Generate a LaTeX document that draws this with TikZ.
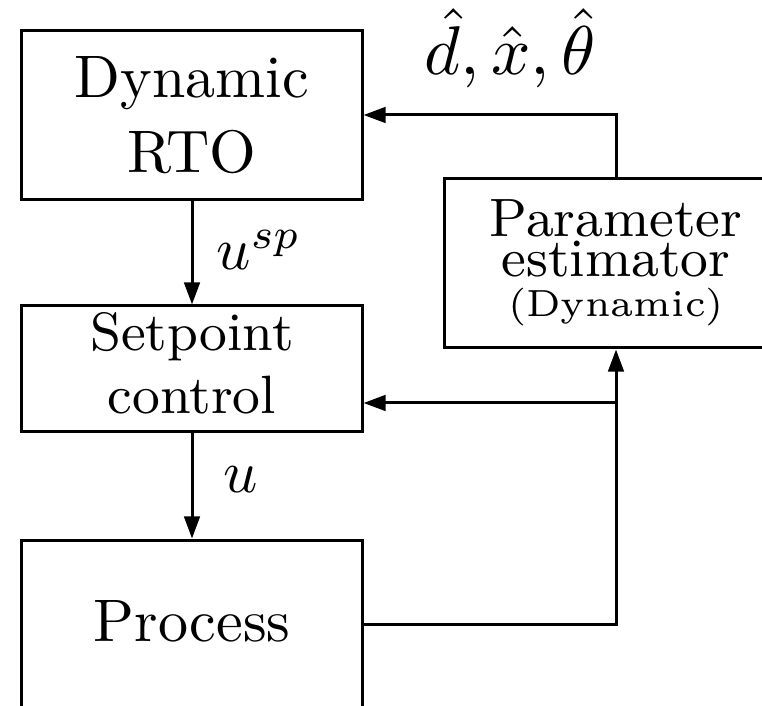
\documentclass[tikz,border=0pt]{standalone}
\usepackage{graphicx}
\usetikzlibrary{arrows.meta}
\begin{document}
\begin{tikzpicture}[x=0.16667pt,y=-0.16667pt,line width=0.5pt,
  box/.style={draw, line width=0.5pt, align=center, inner sep=0pt},
  arr/.style={-{Triangle[length=3.7pt,width=2.6pt]}},
  bigtext/.style={font=\fontsize{10}{12.5}\selectfont},
  midtext/.style={font=\fontsize{9}{10.5}\selectfont},
  lbl/.style={inner sep=0pt, anchor=base west, font=\fontsize{10}{12}\selectfont}]
\useasboundingbox (0,0) rectangle (762,706);
\clip (0,0) rectangle (762,706);
\node[box, bigtext, minimum width=56.67pt, minimum height=28.33pt] (rto) at (192,115) {Dynamic\\RTO};
\node[box, midtext, minimum width=56.67pt, minimum height=21pt] (sp) at (192,369) {Setpoint\\control\vphantom{g}};
\node[box, bigtext, minimum width=56.67pt, minimum height=28.33pt] (proc) at (192,625) {Process\rule[-1.3pt]{0pt}{0pt}};
\node[box, font=\fontsize{9}{6.67}\selectfont, minimum width=57.33pt, minimum height=28.33pt] (est) at (616,263)
  {Parameter\\estimator\\{\fontsize{6.3}{6.33}\selectfont (Dynamic)}};
\coordinate (j) at (616,403);
\draw[arr] (rto.south) -- (sp.north);
\draw[arr] (sp.south) -- (proc.north);
\draw[arr] (proc.east) -| (est.south);
\draw[arr] (j) -- (sp.east |- j);
\draw[arr] (est.north) |- (rto.east);
\node[lbl] (usp) at (215,270) {$u^{sp}$};
\node[lbl] (ul) at (222,493) {$u$};
\node[inner sep=0pt, anchor=base, font=\fontsize{10}{12}\selectfont] (obs) at (510,75) {\scalebox{1.15}{$\hat{d}, \hat{x}, \hat{\theta}$}};
\end{tikzpicture}
\end{document}
